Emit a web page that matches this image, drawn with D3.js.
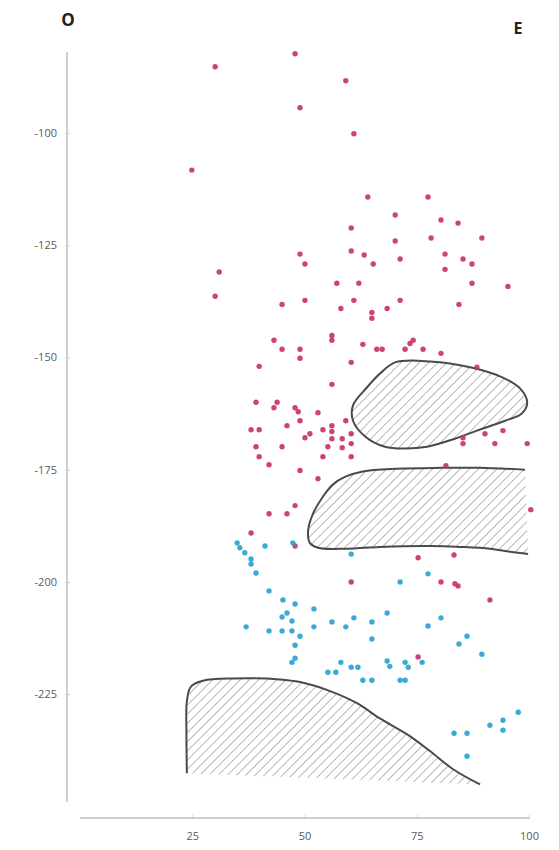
<!DOCTYPE html>
<html>
<head>
<meta charset="utf-8">
<script src="https://cdn.jsdelivr.net/npm/d3@7"></script>
<style>
  html, body { margin: 0; padding: 0; background: #fff; }
  svg { display: block; }
  text { font-family: "Open Sans", "Noto Sans", sans-serif; }
</style>
</head>
<body>
<svg id="chart" width="559" height="850"></svg>
<script>
// ---- data ----
const pinkPoints = [
  [47.9,-82.4],[30.1,-85.3],[59.2,-88.4],[49.0,-94.4],[61.0,-100.2],[24.9,-108.3],
  [64.1,-114.3],[77.5,-114.3],[70.2,-118.3],[80.4,-119.4],[84.2,-120.1],[60.4,-121.2],
  [70.2,-124.1],[78.2,-123.4],[89.5,-123.4],[60.4,-126.3],[49.0,-127.0],[50.1,-129.2],
  [63.3,-127.2],[65.3,-129.2],[71.3,-128.1],[81.3,-127.0],[85.3,-128.1],[87.3,-129.2],
  [81.3,-130.4],[31.0,-131.0],[57.2,-133.5],[62.1,-133.5],[87.3,-133.5],[95.3,-134.2],
  [30.1,-136.4],[45.0,-138.2],[50.1,-137.3],[58.1,-139.1],[61.0,-137.3],[68.4,-139.1],
  [71.3,-137.3],[84.4,-138.2],[65.0,-140.0],[65.0,-141.3],[56.1,-145.1],[56.1,-146.2],
  [43.2,-146.2],[63.0,-147.1],[45.0,-148.2],[49.0,-148.2],[49.0,-150.2],[66.1,-148.2],
  [67.3,-148.2],[72.4,-148.2],[73.5,-146.9],[74.2,-146.2],[76.4,-148.2],[80.4,-149.1],
  [60.4,-151.1],[39.9,-152.0],[88.4,-152.2],[56.1,-156.0],[39.2,-160.0],[43.2,-161.2],
  [43.9,-160.0],[47.9,-161.2],[48.6,-162.1],[53.0,-162.3],[49.0,-164.1],[46.1,-165.2],
  [59.2,-164.1],[38.1,-166.1],[39.9,-166.1],[56.1,-165.2],[54.1,-166.1],[50.1,-167.9],
  [51.2,-167.0],[56.1,-166.5],[56.1,-168.1],[58.4,-168.1],[60.4,-167.0],[39.2,-169.9],
  [45.0,-169.9],[55.2,-169.9],[58.4,-170.1],[60.4,-169.2],[39.9,-172.1],[54.1,-172.1],
  [60.4,-172.1],[42.1,-173.9],[49.0,-175.2],[53.0,-177.0],[90.2,-167.0],[94.2,-166.3],
  [85.3,-167.9],[85.3,-169.2],[92.4,-169.2],[99.6,-169.2],[81.5,-174.1],[47.9,-183.0],
  [42.1,-184.8],[46.1,-184.8],[100.4,-183.9],[38.1,-189.1],[47.9,-192.0],[75.3,-194.6],
  [83.3,-194.0],[60.4,-200.0],[80.4,-200.0],[83.5,-200.4],[84.2,-200.9],[91.3,-204.0],
  [75.3,-216.7]
];
const cyanPoints = [
  [35.0,-191.3],[35.6,-192.4],[36.7,-193.5],[38.1,-194.9],[38.1,-196.0],[39.2,-198.0],
  [41.2,-192.0],[47.4,-191.3],[60.4,-193.8],[42.1,-202.0],[45.2,-204.0],[47.9,-204.9],
  [52.1,-206.0],[46.1,-206.9],[45.0,-207.8],[47.2,-208.7],[37.0,-210.0],[42.1,-210.9],
  [45.0,-210.9],[47.2,-210.9],[49.0,-212.1],[47.9,-214.1],[52.1,-210.0],[56.1,-208.9],
  [59.2,-210.0],[61.0,-208.0],[47.9,-217.0],[47.2,-217.9],[55.2,-220.1],[57.0,-220.1],
  [58.1,-217.9],[60.4,-219.0],[61.9,-219.0],[77.5,-198.2],[71.3,-200.0],[68.4,-206.9],
  [65.0,-208.9],[80.4,-208.0],[77.5,-209.8],[65.0,-212.7],[86.2,-212.1],[84.4,-213.8],
  [89.5,-216.1],[68.4,-217.6],[69.0,-218.8],[72.4,-217.9],[73.1,-219.0],[76.2,-217.9],
  [63.0,-221.9],[65.0,-221.9],[71.3,-221.9],[72.4,-221.9],[97.6,-229.0],[91.3,-231.9],
  [94.2,-230.8],[94.2,-233.0],[83.3,-233.7],[86.2,-233.7],[86.2,-238.8]
];
// hatched regions (outline points in data units)
const regionTop = [
  [70.2,-151.1],[78.0,-150.9],[86.9,-152.2],[94.2,-154.5],[98.0,-156.9],[99.6,-160.0],
  [98.4,-162.5],[94.7,-164.1],[88.4,-166.3],[83.5,-168.1],[77.3,-169.9],[72.4,-170.3],
  [67.9,-169.9],[63.5,-167.6],[60.8,-164.1],[60.8,-160.7],[63.9,-156.7],[66.8,-153.6]
];
const regionMid = [
  [99.1,-175.0],[89.1,-174.6],[80.2,-174.6],[70.6,-174.8],[63.0,-175.4],[59.0,-176.6],
  [56.3,-178.3],[53.9,-181.3],[51.9,-184.8],[50.8,-188.6],[51.2,-191.3],[53.0,-192.4],
  [59.5,-192.6],[66.8,-192.2],[78.0,-192.0],[84.6,-192.2],[91.3,-192.6],[95.8,-193.3],
  [99.8,-193.8]
];
const regionLow = [
  [23.8,-242.6],[23.7,-233.3],[23.8,-226.6],[24.7,-223.3],[27.4,-222.0],[34.1,-221.5],
  [44.5,-221.7],[49.0,-222.3],[55.7,-224.3],[61.7,-227.0],[66.8,-230.4],[72.8,-233.9],
  [78.0,-237.7],[83.1,-241.7],[89.1,-245.1]
];
const xTicks = [25, 50, 75, 100];
const yTicks = [-100, -125, -150, -175, -200, -225];
const cornerLabels = ["O", "E"];

// ---- chart ----
const svg = d3.select("#chart");
const x = d3.scaleLinear().domain([0, 100]).range([80, 529]);
const y = d3.scaleLinear().domain([-249, -82]).range([802, 52]);

const defs = svg.append("defs");
defs.append("pattern")
  .attr("id", "hatch")
  .attr("patternUnits", "userSpaceOnUse")
  .attr("width", 6.5).attr("height", 6.5)
  .attr("patternTransform", "rotate(45)")
  .append("line")
  .attr("x1", 0).attr("y1", 0).attr("x2", 0).attr("y2", 6.5)
  .attr("stroke", "#888").attr("stroke-width", 1.2);

// axes
const yAxis = d3.axisLeft(y).tickValues(yTicks).tickSize(3).tickPadding(7);
const gy = svg.append("g").attr("transform", "translate(67,0)").call(yAxis);
gy.select(".domain").attr("stroke", "#cfcfcf").attr("stroke-width", 2).attr("d", `M0,52V802`);
gy.selectAll(".tick line").attr("stroke", "#cfcfcf").attr("x2", 3).attr("x1", -2);
gy.selectAll(".tick text").attr("fill", "#5a5a5a").attr("font-size", 11)
  .text(d => "-" + Math.abs(d));

const xAxis = d3.axisBottom(x).tickValues(xTicks).tickSize(0).tickPadding(14);
const gx = svg.append("g").attr("transform", "translate(0,818)").call(xAxis);
gx.select(".domain").attr("stroke", "#cfcfcf").attr("stroke-width", 2).attr("d", `M80,0H530`);
gx.selectAll(".tick").append("line").attr("y1", -3).attr("y2", 1).attr("stroke", "#cfcfcf");
gx.selectAll(".tick text").attr("fill", "#5a5a5a").attr("font-size", 11);

// regions
const lineOpen = d3.line().x(d => x(d[0])).y(d => y(d[1])).curve(d3.curveCatmullRom.alpha(0.5));
const lineClosed = d3.line().x(d => x(d[0])).y(d => y(d[1])).curve(d3.curveCatmullRomClosed.alpha(0.5));

const regions = svg.append("g");
regions.append("path").attr("d", lineClosed(regionTop))
  .attr("fill", "url(#hatch)").attr("stroke", "#4a4a4a").attr("stroke-width", 2);
regions.append("path").attr("d", lineOpen(regionMid) + "Z")
  .attr("fill", "url(#hatch)").attr("stroke", "none");
regions.append("path").attr("d", lineOpen(regionMid))
  .attr("fill", "none").attr("stroke", "#4a4a4a").attr("stroke-width", 2);
regions.append("path").attr("d", lineOpen(regionLow) + "Z")
  .attr("fill", "url(#hatch)").attr("stroke", "none");
regions.append("path").attr("d", lineOpen(regionLow))
  .attr("fill", "none").attr("stroke", "#4a4a4a").attr("stroke-width", 2);

// points
const pts = svg.append("g");
pts.selectAll("circle.pink").data(pinkPoints).join("circle")
  .attr("class", "pink")
  .attr("cx", d => x(d[0])).attr("cy", d => y(d[1])).attr("r", 2.7)
  .attr("fill", "#c92d6c").attr("fill-opacity", 0.9);
pts.selectAll("circle.cyan").data(cyanPoints).join("circle")
  .attr("class", "cyan")
  .attr("cx", d => x(d[0])).attr("cy", d => y(d[1])).attr("r", 2.7)
  .attr("fill", "#22a3cf").attr("fill-opacity", 0.9);

// corner labels
svg.append("text").attr("x", 68).attr("y", 26).attr("text-anchor", "middle")
  .attr("font-size", 17).attr("font-weight", "bold").attr("fill", "#222").text(cornerLabels[0]);
svg.append("text").attr("x", 518).attr("y", 34).attr("text-anchor", "middle")
  .attr("font-size", 16).attr("font-weight", "bold").attr("fill", "#222").text(cornerLabels[1]);
</script>
</body>
</html>
